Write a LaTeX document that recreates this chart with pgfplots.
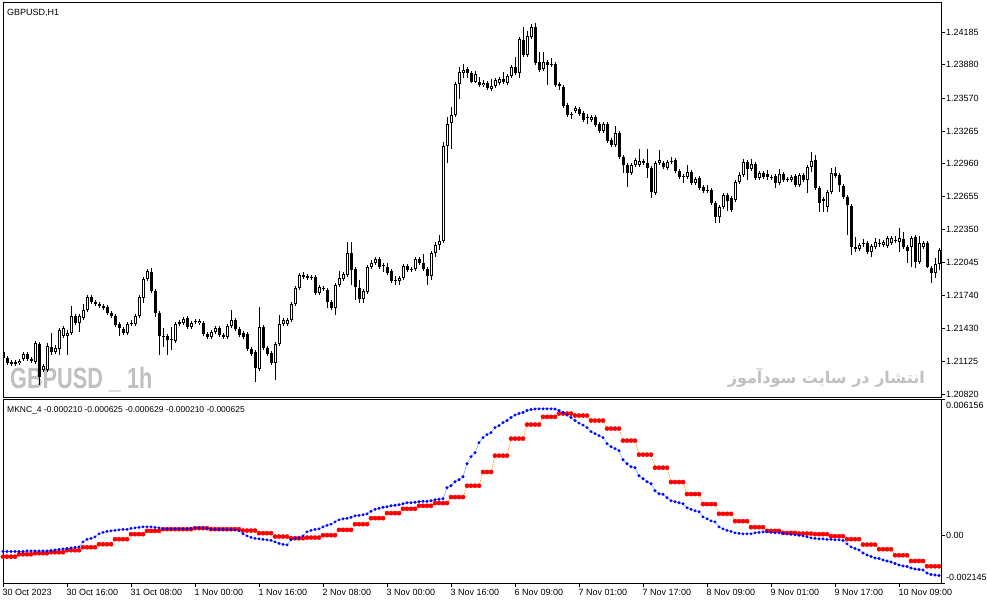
\documentclass[border=0pt]{standalone}
\usepackage{fontspec}
\setmainfont{Liberation Sans}
\newfontfamily\arabicfont[Script=Arabic]{DejaVu Sans}
\TeXXeTstate=1
\usepackage{graphicx}
\usepackage{pgfplots}
\usepackage{pgfplotstable}
\pgfplotsset{compat=1.18}
\definecolor{wm}{RGB}{192,192,192}
\definecolor{bline}{RGB}{90,165,255}
\definecolor{oline}{RGB}{255,165,0}
\definecolor{rdot}{RGB}{255,0,0}
\definecolor{bdot}{RGB}{0,0,255}

\pgfplotstableread{
i O H L C
0 1.21212 1.21239 1.21138 1.21157
1 1.21157 1.21175 1.21092 1.21110
2 1.21119 1.21138 1.21082 1.21101
3 1.21101 1.21138 1.21082 1.21119
4 1.21110 1.21147 1.21092 1.21129
5 1.21147 1.21212 1.21129 1.21194
6 1.21194 1.21212 1.21129 1.21147
7 1.21147 1.21166 1.21110 1.21129
8 1.21119 1.21314 1.21101 1.21295
9 1.21286 1.21304 1.20906 1.20980
10 1.21045 1.21101 1.21026 1.21082
11 1.21045 1.21295 1.21026 1.21267
12 1.21258 1.21388 1.21185 1.21212
13 1.21212 1.21277 1.21194 1.21249
14 1.21239 1.21435 1.21185 1.21416
15 1.21360 1.21453 1.21342 1.21435
16 1.21360 1.21416 1.21185 1.21388
17 1.21388 1.21639 1.21370 1.21546
18 1.21546 1.21565 1.21463 1.21481
19 1.21481 1.21565 1.21397 1.21546
20 1.21528 1.21658 1.21509 1.21602
21 1.21602 1.21741 1.21583 1.21723
22 1.21723 1.21741 1.21658 1.21676
23 1.21676 1.21695 1.21639 1.21658
24 1.21658 1.21676 1.21621 1.21639
25 1.21621 1.21658 1.21602 1.21639
26 1.21630 1.21649 1.21556 1.21574
27 1.21574 1.21593 1.21528 1.21546
28 1.21546 1.21565 1.21444 1.21463
29 1.21472 1.21490 1.21360 1.21435
30 1.21425 1.21444 1.21370 1.21388
31 1.21388 1.21490 1.21370 1.21472
32 1.21481 1.21509 1.21453 1.21472
33 1.21472 1.21565 1.21453 1.21546
34 1.21546 1.21741 1.21528 1.21723
35 1.21714 1.21909 1.21667 1.21890
36 1.21890 1.21983 1.21872 1.21965
37 1.21955 1.21992 1.21760 1.21779
38 1.21779 1.21797 1.21537 1.21574
39 1.21574 1.21593 1.21185 1.21360
40 1.21360 1.21435 1.21258 1.21351
41 1.21360 1.21379 1.21185 1.21323
42 1.21323 1.21444 1.21231 1.21332
43 1.21314 1.21490 1.21295 1.21472
44 1.21472 1.21509 1.21453 1.21490
45 1.21481 1.21537 1.21463 1.21518
46 1.21528 1.21546 1.21425 1.21444
47 1.21444 1.21500 1.21425 1.21481
48 1.21500 1.21518 1.21472 1.21490
49 1.21481 1.21518 1.21463 1.21500
50 1.21481 1.21500 1.21360 1.21379
51 1.21379 1.21397 1.21332 1.21351
52 1.21351 1.21416 1.21332 1.21397
53 1.21397 1.21453 1.21379 1.21435
54 1.21435 1.21453 1.21351 1.21370
55 1.21370 1.21388 1.21332 1.21351
56 1.21351 1.21472 1.21332 1.21453
57 1.21453 1.21602 1.21435 1.21509
58 1.21509 1.21528 1.21407 1.21425
59 1.21425 1.21444 1.21351 1.21370
60 1.21388 1.21407 1.21332 1.21351
61 1.21379 1.21397 1.21222 1.21239
62 1.21239 1.21258 1.21175 1.21194
63 1.21212 1.21231 1.20933 1.21064
64 1.21054 1.21630 1.21036 1.21444
65 1.21444 1.21463 1.21231 1.21249
66 1.21249 1.21267 1.21175 1.21194
67 1.21203 1.21222 1.21092 1.21110
68 1.21110 1.21304 1.20952 1.21286
69 1.21286 1.21556 1.21267 1.21472
70 1.21472 1.21528 1.21453 1.21509
71 1.21472 1.21528 1.21453 1.21509
72 1.21509 1.21676 1.21490 1.21658
73 1.21658 1.21825 1.21639 1.21806
74 1.21806 1.21946 1.21788 1.21928
75 1.21928 1.21955 1.21890 1.21909
76 1.21900 1.21937 1.21881 1.21918
77 1.21909 1.21928 1.21881 1.21900
78 1.21909 1.21928 1.21741 1.21760
79 1.21760 1.21834 1.21741 1.21816
80 1.21806 1.21825 1.21779 1.21797
81 1.21788 1.21806 1.21621 1.21676
82 1.21676 1.21695 1.21602 1.21621
83 1.21621 1.21853 1.21556 1.21834
84 1.21834 1.21965 1.21816 1.21900
85 1.21890 1.21955 1.21872 1.21937
86 1.21928 1.22233 1.21909 1.22132
87 1.22132 1.22233 1.21834 1.21974
88 1.21983 1.22002 1.21695 1.21816
89 1.21806 1.21881 1.21667 1.21704
90 1.21704 1.21797 1.21667 1.21779
91 1.21769 1.22021 1.21751 1.22002
92 1.22002 1.22067 1.21983 1.22039
93 1.22039 1.22095 1.22021 1.22076
94 1.22076 1.22095 1.21983 1.22002
95 1.22021 1.22039 1.21955 1.22011
96 1.22002 1.22039 1.21928 1.21946
97 1.21965 1.21983 1.21853 1.21872
98 1.21881 1.21918 1.21834 1.21872
99 1.21872 1.21918 1.21834 1.21900
100 1.21900 1.22030 1.21881 1.22011
101 1.22011 1.22030 1.21955 1.21974
102 1.21983 1.22002 1.21955 1.21974
103 1.21983 1.22095 1.21965 1.22076
104 1.22076 1.22095 1.22021 1.22039
105 1.22039 1.22123 1.21965 1.21983
106 1.21983 1.22002 1.21834 1.21918
107 1.21918 1.22151 1.21881 1.22132
108 1.22132 1.22233 1.22095 1.22206
109 1.22206 1.22299 1.22160 1.22243
110 1.22243 1.23162 1.22224 1.23125
111 1.23125 1.23395 1.22968 1.23330
112 1.23339 1.23488 1.23098 1.23414
113 1.23414 1.23720 1.23395 1.23702
114 1.23702 1.23860 1.23562 1.23813
115 1.23804 1.23888 1.23757 1.23832
116 1.23841 1.23860 1.23757 1.23804
117 1.23804 1.23823 1.23711 1.23720
118 1.23720 1.23823 1.23711 1.23795
119 1.23720 1.23767 1.23674 1.23692
120 1.23692 1.23739 1.23674 1.23711
121 1.23711 1.23730 1.23646 1.23665
122 1.23655 1.23748 1.23637 1.23683
123 1.23683 1.23757 1.23665 1.23739
124 1.23711 1.23767 1.23692 1.23748
125 1.23748 1.23813 1.23702 1.23720
126 1.23711 1.23795 1.23692 1.23776
127 1.23776 1.23879 1.23757 1.23860
128 1.23860 1.23953 1.23785 1.23804
129 1.23804 1.24138 1.23757 1.24120
130 1.24110 1.24231 1.23953 1.23971
131 1.23971 1.24194 1.23953 1.24148
132 1.24138 1.24259 1.24120 1.24231
133 1.24231 1.24268 1.23879 1.23897
134 1.23907 1.23999 1.23813 1.23832
135 1.23841 1.23999 1.23823 1.23907
136 1.23907 1.23925 1.23692 1.23879
137 1.23888 1.23944 1.23860 1.23879
138 1.23888 1.23907 1.23674 1.23692
139 1.23702 1.23720 1.23646 1.23683
140 1.23674 1.23692 1.23479 1.23497
141 1.23507 1.23525 1.23395 1.23414
142 1.23423 1.23442 1.23376 1.23414
143 1.23451 1.23497 1.23432 1.23479
144 1.23470 1.23488 1.23404 1.23423
145 1.23432 1.23451 1.23348 1.23367
146 1.23395 1.23423 1.23330 1.23386
147 1.23367 1.23414 1.23348 1.23395
148 1.23395 1.23414 1.23302 1.23321
149 1.23330 1.23348 1.23246 1.23265
150 1.23265 1.23348 1.23246 1.23330
151 1.23330 1.23348 1.23153 1.23172
152 1.23181 1.23200 1.23116 1.23135
153 1.23135 1.23311 1.23116 1.23246
154 1.23246 1.23265 1.23005 1.23024
155 1.23024 1.23043 1.22875 1.22950
156 1.22950 1.22968 1.22745 1.22875
157 1.22875 1.22968 1.22857 1.22950
158 1.22950 1.23015 1.22931 1.22996
159 1.22950 1.23098 1.22931 1.22987
160 1.22987 1.23005 1.22950 1.22968
161 1.22968 1.23098 1.22829 1.22922
162 1.22922 1.22940 1.22643 1.22699
163 1.22689 1.22987 1.22671 1.22968
164 1.22968 1.23089 1.22950 1.22996
165 1.22968 1.22987 1.22912 1.22931
166 1.22922 1.22996 1.22903 1.22977
167 1.22987 1.23024 1.22959 1.22977
168 1.22996 1.23015 1.22875 1.22894
169 1.22894 1.22912 1.22819 1.22838
170 1.22847 1.22866 1.22782 1.22838
171 1.22838 1.22950 1.22819 1.22884
172 1.22884 1.22903 1.22764 1.22782
173 1.22782 1.22838 1.22764 1.22819
174 1.22829 1.22847 1.22717 1.22736
175 1.22745 1.22764 1.22689 1.22708
176 1.22717 1.22764 1.22689 1.22708
177 1.22717 1.22736 1.22578 1.22596
178 1.22596 1.22615 1.22410 1.22466
179 1.22466 1.22578 1.22410 1.22559
180 1.22559 1.22689 1.22540 1.22671
181 1.22671 1.22689 1.22522 1.22615
182 1.22643 1.22661 1.22512 1.22531
183 1.22624 1.22810 1.22605 1.22792
184 1.22792 1.22884 1.22773 1.22857
185 1.22857 1.23005 1.22838 1.22977
186 1.22977 1.22996 1.22810 1.22912
187 1.22912 1.23005 1.22894 1.22959
188 1.22959 1.22977 1.22810 1.22829
189 1.22829 1.22894 1.22810 1.22875
190 1.22875 1.22894 1.22819 1.22838
191 1.22866 1.22903 1.22810 1.22838
192 1.22838 1.22857 1.22810 1.22829
193 1.22847 1.22866 1.22736 1.22782
194 1.22782 1.22912 1.22764 1.22866
195 1.22866 1.22884 1.22792 1.22810
196 1.22819 1.22838 1.22792 1.22810
197 1.22810 1.22857 1.22792 1.22838
198 1.22847 1.22866 1.22745 1.22764
199 1.22764 1.22875 1.22745 1.22857
200 1.22857 1.22875 1.22792 1.22810
201 1.22810 1.22950 1.22689 1.22931
202 1.22931 1.23070 1.22884 1.22987
203 1.22996 1.23043 1.22717 1.22736
204 1.22736 1.22754 1.22512 1.22596
205 1.22633 1.22652 1.22512 1.22615
206 1.22559 1.22717 1.22512 1.22699
207 1.22699 1.22922 1.22680 1.22875
208 1.22875 1.22931 1.22829 1.22847
209 1.22857 1.22875 1.22699 1.22764
210 1.22754 1.22773 1.22633 1.22652
211 1.22652 1.22671 1.22299 1.22578
212 1.22568 1.22587 1.22113 1.22187
213 1.22187 1.22280 1.22141 1.22169
214 1.22169 1.22224 1.22151 1.22206
215 1.22224 1.22262 1.22187 1.22215
216 1.22224 1.22243 1.22123 1.22141
217 1.22141 1.22215 1.22095 1.22196
218 1.22187 1.22271 1.22169 1.22233
219 1.22224 1.22262 1.22187 1.22215
220 1.22206 1.22252 1.22187 1.22233
221 1.22196 1.22289 1.22178 1.22271
222 1.22224 1.22289 1.22206 1.22271
223 1.22252 1.22289 1.22224 1.22243
224 1.22233 1.22364 1.22141 1.22271
225 1.22262 1.22327 1.22169 1.22187
226 1.22187 1.22206 1.22039 1.22151
227 1.22187 1.22289 1.22002 1.22271
228 1.22280 1.22299 1.21992 1.22048
229 1.22048 1.22289 1.22030 1.22224
230 1.22187 1.22243 1.22169 1.22224
231 1.22224 1.22243 1.21992 1.22002
232 1.21992 1.22011 1.21853 1.21946
233 1.21946 1.22085 1.21900 1.22030
234 1.22030 1.22178 1.21974 1.22160
}\candles

\pgfplotstableread{
i blue red
0 -0.000717 -0.000953
1 -0.000717 -0.000953
2 -0.000717 -0.000953
3 -0.000717 -0.000953
4 -0.000717 -0.000844
5 -0.000717 -0.000844
6 -0.000694 -0.000844
7 -0.000694 -0.000844
8 -0.000694 -0.000798
9 -0.000694 -0.000798
10 -0.000694 -0.000798
11 -0.000694 -0.000798
12 -0.000671 -0.000753
13 -0.000649 -0.000753
14 -0.000626 -0.000753
15 -0.000603 -0.000753
16 -0.000581 -0.000662
17 -0.000558 -0.000662
18 -0.000535 -0.000662
19 -0.000513 -0.000662
20 -0.000286 -0.000526
21 -0.000172 -0.000526
22 -0.000127 -0.000526
23 -0.000059 -0.000526
24 0.000077 -0.000390
25 0.000145 -0.000390
26 0.000191 -0.000390
27 0.000213 -0.000390
28 0.000236 -0.000163
29 0.000259 -0.000163
30 0.000281 -0.000163
31 0.000281 -0.000163
32 0.000327 0.000064
33 0.000349 0.000064
34 0.000372 0.000064
35 0.000395 0.000064
36 0.000395 0.000213
37 0.000395 0.000213
38 0.000372 0.000213
39 0.000349 0.000213
40 0.000304 0.000290
41 0.000304 0.000290
42 0.000304 0.000290
43 0.000304 0.000290
44 0.000304 0.000290
45 0.000304 0.000290
46 0.000304 0.000290
47 0.000327 0.000290
48 0.000349 0.000336
49 0.000349 0.000336
50 0.000349 0.000336
51 0.000327 0.000336
52 0.000304 0.000290
53 0.000281 0.000290
54 0.000281 0.000290
55 0.000281 0.000290
56 0.000281 0.000290
57 0.000281 0.000290
58 0.000259 0.000290
59 0.000213 0.000290
60 0.000077 0.000227
61 -0.000014 0.000227
62 -0.000082 0.000227
63 -0.000127 0.000227
64 -0.000150 0.000109
65 -0.000172 0.000109
66 -0.000195 0.000109
67 -0.000218 0.000109
68 -0.000286 -0.000045
69 -0.000354 -0.000045
70 -0.000399 -0.000045
71 -0.000422 -0.000045
72 -0.000195 -0.000118
73 -0.000127 -0.000118
74 -0.000104 -0.000118
75 -0.000014 -0.000118
76 0.000168 -0.000091
77 0.000236 -0.000091
78 0.000281 -0.000091
79 0.000304 -0.000091
80 0.000395 0.000018
81 0.000463 0.000018
82 0.000517 0.000018
83 0.000621 0.000018
84 0.000712 0.000259
85 0.000758 0.000259
86 0.000780 0.000259
87 0.000826 0.000259
88 0.000894 0.000517
89 0.000916 0.000517
90 0.000939 0.000517
91 0.000984 0.000517
92 0.001098 0.000789
93 0.001188 0.000789
94 0.001234 0.000789
95 0.001279 0.000789
96 0.001302 0.001016
97 0.001347 0.001016
98 0.001370 0.001016
99 0.001393 0.001016
100 0.001438 0.001211
101 0.001483 0.001211
102 0.001483 0.001211
103 0.001506 0.001211
104 0.001529 0.001347
105 0.001551 0.001347
106 0.001551 0.001347
107 0.001574 0.001347
108 0.001619 0.001470
109 0.001642 0.001470
110 0.001665 0.001470
111 0.002164 0.001470
112 0.002254 0.001742
113 0.002436 0.001742
114 0.002527 0.001742
115 0.002663 0.001742
116 0.003252 0.002254
117 0.003570 0.002254
118 0.003751 0.002254
119 0.004205 0.002254
120 0.004432 0.002876
121 0.004568 0.002876
122 0.004658 0.002876
123 0.004885 0.003615
124 0.004976 0.003615
125 0.005112 0.003615
126 0.005203 0.003615
127 0.005339 0.004386
128 0.005452 0.004386
129 0.005520 0.004386
130 0.005566 0.004386
131 0.005656 0.005021
132 0.005702 0.005021
133 0.005724 0.005021
134 0.005734 0.005021
135 0.005734 0.005371
136 0.005734 0.005371
137 0.005734 0.005371
138 0.005724 0.005371
139 0.005656 0.005520
140 0.005566 0.005520
141 0.005452 0.005520
142 0.005339 0.005520
143 0.005203 0.005430
144 0.005089 0.005430
145 0.004999 0.005430
146 0.004885 0.005430
147 0.004704 0.005203
148 0.004613 0.005203
149 0.004522 0.005203
150 0.004432 0.005203
151 0.004160 0.004840
152 0.004023 0.004840
153 0.003933 0.004840
154 0.003842 0.004840
155 0.003434 0.004296
156 0.003252 0.004296
157 0.003116 0.004296
158 0.003071 0.004296
159 0.002708 0.003661
160 0.002572 0.003661
161 0.002436 0.003661
162 0.002345 0.003661
163 0.002028 0.003071
164 0.001892 0.003071
165 0.001869 0.003071
166 0.001710 0.003071
167 0.001574 0.002422
168 0.001529 0.002422
169 0.001483 0.002422
170 0.001438 0.002422
171 0.001256 0.001878
172 0.001188 0.001878
173 0.001120 0.001878
174 0.001075 0.001878
175 0.000848 0.001424
176 0.000758 0.001424
177 0.000667 0.001424
178 0.000621 0.001424
179 0.000395 0.000984
180 0.000304 0.000984
181 0.000236 0.000984
182 0.000191 0.000984
183 0.000122 0.000653
184 0.000100 0.000653
185 0.000077 0.000653
186 0.000077 0.000653
187 0.000077 0.000381
188 0.000122 0.000381
189 0.000145 0.000381
190 0.000168 0.000381
191 0.000168 0.000213
192 0.000145 0.000213
193 0.000122 0.000213
194 0.000122 0.000213
195 0.000100 0.000122
196 0.000077 0.000122
197 0.000054 0.000122
198 0.000032 0.000122
199 0.000009 0.000091
200 -0.000014 0.000091
201 -0.000059 0.000091
202 -0.000104 0.000091
203 -0.000127 0.000064
204 -0.000150 0.000064
205 -0.000150 0.000064
206 -0.000172 0.000064
207 -0.000172 -0.000027
208 -0.000195 -0.000027
209 -0.000195 -0.000027
210 -0.000218 -0.000027
211 -0.000376 -0.000163
212 -0.000513 -0.000163
213 -0.000581 -0.000163
214 -0.000649 -0.000163
215 -0.000785 -0.000408
216 -0.000876 -0.000408
217 -0.000944 -0.000408
218 -0.001012 -0.000408
219 -0.001034 -0.000617
220 -0.001102 -0.000617
221 -0.001148 -0.000617
222 -0.001193 -0.000617
223 -0.001261 -0.000889
224 -0.001329 -0.000889
225 -0.001374 -0.000889
226 -0.001397 -0.000889
227 -0.001465 -0.001148
228 -0.001510 -0.001148
229 -0.001533 -0.001148
230 -0.001556 -0.001148
231 -0.001692 -0.001388
232 -0.001760 -0.001388
233 -0.001783 -0.001388
234 -0.001805 -0.001388
}\ind

\begin{document}
\begin{tikzpicture}[font=\fontsize{9}{11}\selectfont]
\useasboundingbox (0,0) rectangle (987pt,-605pt);
% watermarks (behind the chart)
\node[anchor=base west, inner sep=0pt, text=wm] at (10pt,-388pt)
  {\scalebox{0.74}[1]{\fontsize{29.3}{30}\selectfont\bfseries GBPUSD \_ 1h}};
\node[anchor=base east, inner sep=0pt, text=wm] at (925pt,-383pt)
  {\resizebox{197pt}{!}{\arabicfont\bfseries\beginR انتشار در سایت سودآموز\endR}};

\begin{axis}[
  at={(3pt,-2pt)}, anchor=north west,
  width=938pt, height=395pt, scale only axis,
  xmin=0, xmax=234.5, ymin=1.20794, ymax=1.24463,
  axis line style={black, line width=1pt},
  scaled y ticks=false,
  xtick=\empty,
  ytick={1.24185,1.23880,1.23570,1.23265,1.22960,1.22655,1.22350,1.22045,1.21740,1.21430,1.21125,1.20820},
  yticklabels={1.24185,1.23880,1.23570,1.23265,1.22960,1.22655,1.22350,1.22045,1.21740,1.21430,1.21125,1.20820},
  ytick pos=right, yticklabel pos=right,
  tick align=outside, major tick length=4pt,
  tick style={black, line width=0.8pt},
  tick label style={font=\fontsize{9}{11}\selectfont},
  yticklabel style={anchor=west, inner sep=0pt, xshift=1pt},
]
\addplot[draw=none, mark=none, forget plot,
  error bars/.cd, y dir=plus, y explicit, error mark=none,
  error bar style={draw=black, line width=1pt}]
  table[x=i, y=L, y error plus expr={\thisrow{H}-\thisrow{L}}] {\candles};
\addplot[draw=none, mark=none, forget plot,
  error bars/.cd, y dir=plus, y explicit, error mark=none,
  error bar style={draw=black, line width=3pt}]
  table[x=i, y expr={min(\thisrow{O},\thisrow{C})},
        y error plus expr={max(abs(\thisrow{C}-\thisrow{O}),0.00009)}] {\candles};
\addplot[draw=none, mark=none, forget plot,
  error bars/.cd, y dir=plus, y explicit, error mark=none,
  error bar style={draw=white, line width=1pt}]
  table[x=i, y expr={\thisrow{O}+0.0000929},
        y error plus expr={max(\thisrow{C}-\thisrow{O}-0.0001858,0)}] {\candles};
\end{axis}

\begin{axis}[
  at={(3pt,-399.5pt)}, anchor=north west,
  width=938pt, height=183.5pt, scale only axis,
  xmin=0, xmax=234.5, ymin=-0.002145, ymax=0.006156,
  axis line style={black, line width=1pt},
  scaled y ticks=false,
  ytick={-0.002145,0,0.006156},
  yticklabels={\raisebox{2.1pt}[0pt][0pt]{-0.002145},0.00,\raisebox{-9.4pt}[0pt][0pt]{0.006156}},
  ytick pos=right, yticklabel pos=right,
  xtick={0,16,32,48,64,80,96,112,128,144,160,176,192,208,224},
  xticklabels={30 Oct 2023,30 Oct 16:00,31 Oct 08:00,1 Nov 00:00,1 Nov 16:00,2 Nov 08:00,3 Nov 00:00,3 Nov 16:00,6 Nov 09:00,7 Nov 01:00,7 Nov 17:00,8 Nov 09:00,9 Nov 01:00,9 Nov 17:00,10 Nov 09:00},
  xtick pos=bottom,
  tick align=outside, major tick length=4pt,
  tick style={black, line width=0.8pt},
  tick label style={font=\fontsize{9}{11}\selectfont},
  yticklabel style={anchor=west, inner sep=0pt, xshift=1pt},
  xticklabel style={anchor=north west, inner sep=0pt, xshift=-0.5pt, yshift=-2pt},
]
\addplot[only marks, mark=*, mark size=2.1pt, mark options={fill=rdot, draw=rdot}]
  table[x=i, y=red] {\ind};
\addplot[oline, line width=0.7pt, dash pattern=on 1.5pt off 1pt, mark=none]
  table[x=i, y=red] {\ind};
\addplot[bline, line width=0.5pt, mark=none]
  table[x=i, y=blue] {\ind};
\addplot[only marks, mark=*, mark size=1.3pt, mark options={fill=bdot, draw=bdot}]
  table[x=i, y=blue] {\ind};
\end{axis}

\node[anchor=base west, inner sep=0pt] at (7pt,-15pt) {GBPUSD,H1};
\node[anchor=base west, inner sep=0pt] at (7pt,-412pt)
  {\fontsize{8.5}{10}\selectfont MKNC\_4 -0.000210 -0.000625 -0.000629 -0.000210 -0.000625};
\end{tikzpicture}
\end{document}
